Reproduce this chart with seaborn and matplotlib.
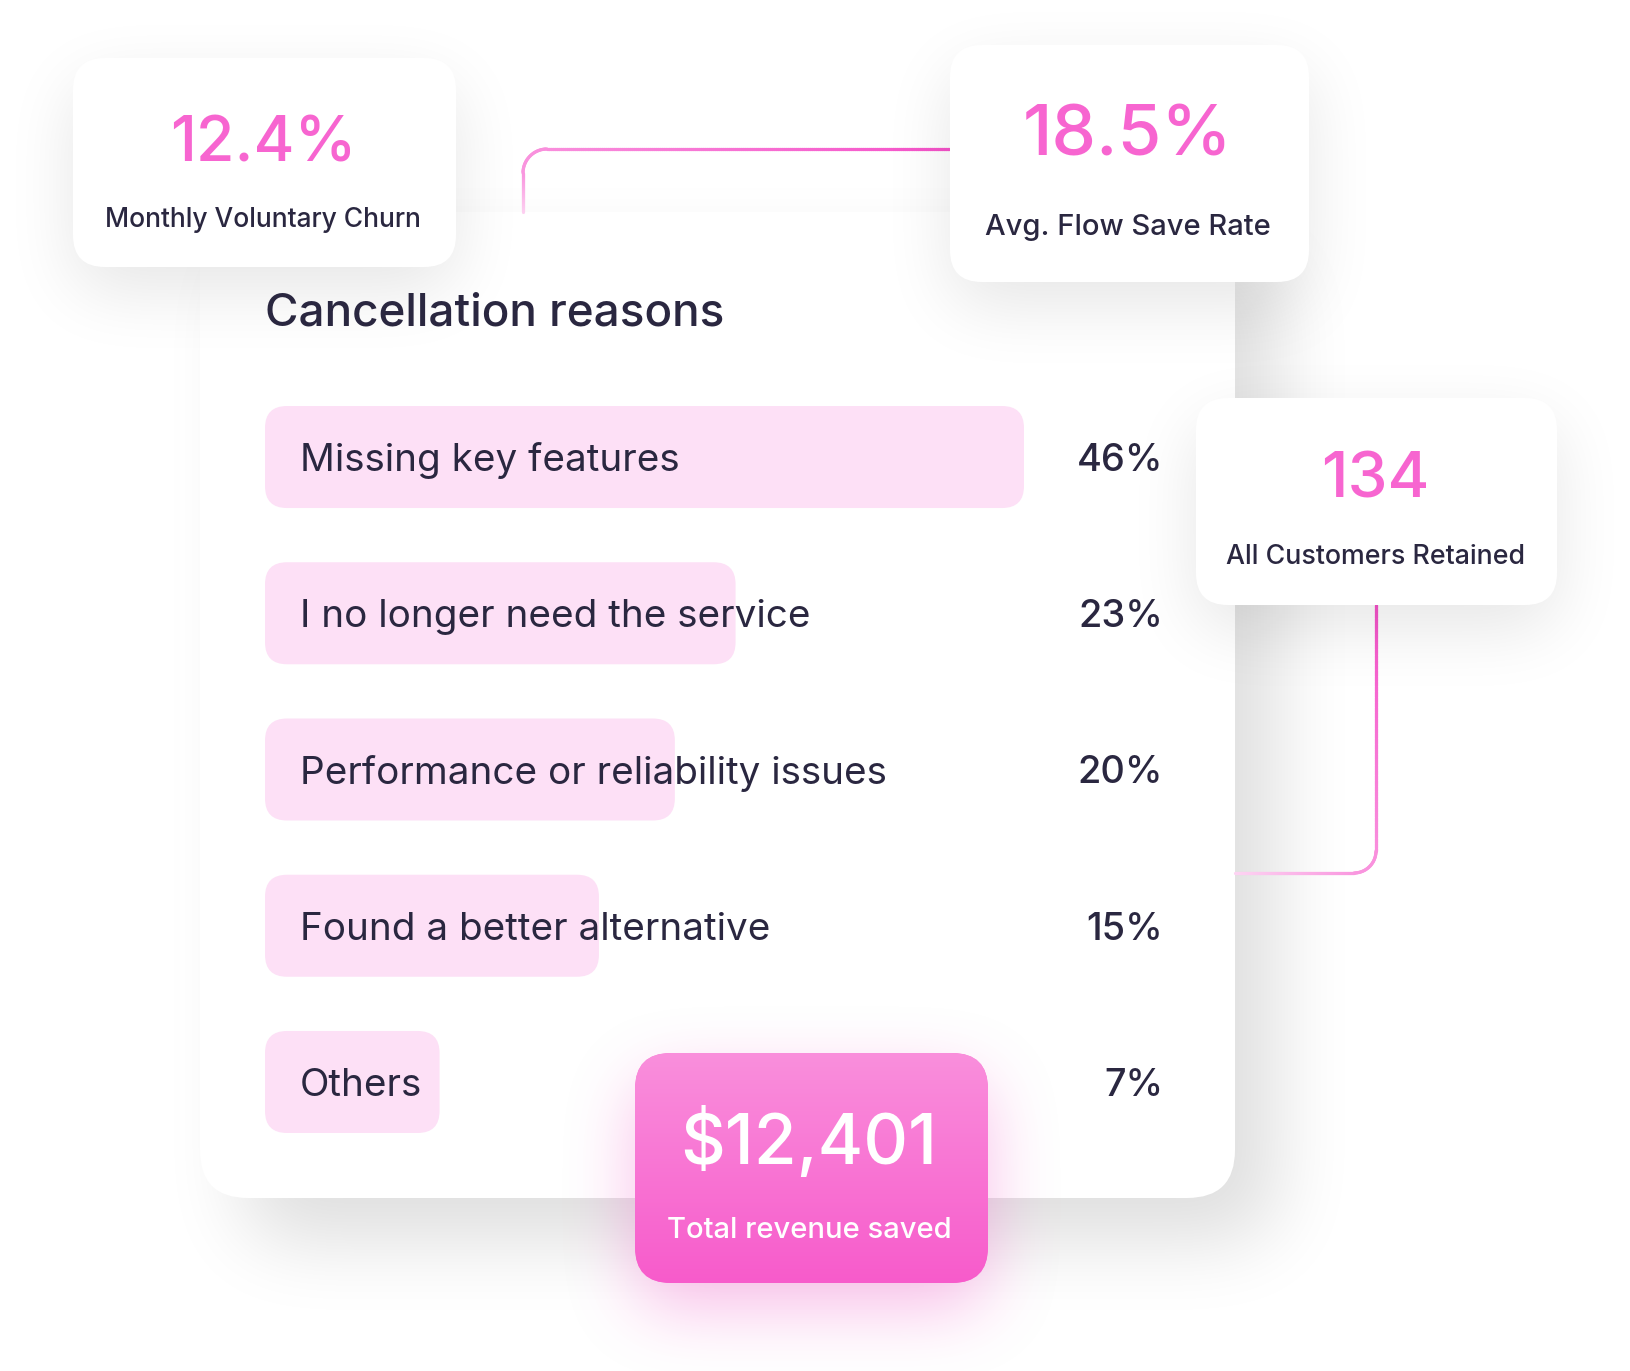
import numpy as np
import pandas as pd
import matplotlib
matplotlib.use("Agg")
import matplotlib.pyplot as plt
import seaborn as sns
from matplotlib.patches import FancyBboxPatch
from matplotlib.collections import LineCollection
from matplotlib import transforms
from matplotlib.colors import to_rgb

# --- data ---
reasons = ["Missing key features", "I no longer need the service",
           "Performance or reliability issues", "Found a better alternative", "Others"]
shares = [46, 23, 20, 15, 7]
bar_fill = [100, 62, 54, 44, 23]   # drawn bar length, % of the track

kpi_values = ["12.4%", "18.5%", "134", "$12,401"]
kpi_labels = ["Monthly Voluntary Churn", "Avg. Flow Save Rate",
              "All Customers Retained", "Total revenue saved"]

TEXT = "#2a2740"
PINK = "#f765d0"
BAR = "#fde0f6"

sns.set_theme(style="white")
plt.rcParams["font.family"] = ["Inter", "DejaVu Sans"]

W, H = 1630, 1371
fig = plt.figure(figsize=(W / 100, H / 100), dpi=100)
ax = fig.add_axes([0, 0, 1, 1])
ax.set_xlim(0, W)
ax.set_ylim(H, 0)
ax.axis("off")

yy, xx = np.mgrid[0:H, 0:W] + 0.5


def rrect_mask(x0, y0, x1, y1, r):
    cx, cy = (x0 + x1) / 2, (y0 + y1) / 2
    hw, hh = (x1 - x0) / 2 - r, (y1 - y0) / 2 - r
    dx = np.maximum(np.abs(xx - cx) - hw, 0)
    dy = np.maximum(np.abs(yy - cy) - hh, 0)
    return (np.hypot(dx, dy) <= r).astype(float)


def box1d(a, w, axis):
    if axis == 1:
        return box1d(a.T, w, 0).T
    r = w // 2
    w = 2 * r + 1
    n = a.shape[0]
    c = np.cumsum(np.pad(a, ((r + 1, r), (0, 0))), axis=0)
    return (c[w:w + n] - c[0:n]) / w


def blur(a, s):
    w = int(round(np.sqrt(4 * s * s + 1)))
    for _ in range(3):
        a = box1d(a, w, 0)
        a = box1d(a, w, 1)
    return a


def shadow(rect, r, dx, dy, s, alpha, color="#000000", z=1):
    x0, y0, x1, y1 = rect
    m = blur(rrect_mask(x0 + dx, y0 + dy, x1 + dx, y1 + dy, r), s)
    img = np.zeros((H, W, 4))
    img[..., :3] = to_rgb(color)
    img[..., 3] = m * alpha
    ax.imshow(img, extent=(0, W, H, 0), zorder=z, interpolation="bilinear")


def card(rect, r, z, fc="white"):
    x0, y0, x1, y1 = rect
    p = FancyBboxPatch((x0, y0), x1 - x0, y1 - y0,
                       boxstyle=f"round,pad=0,rounding_size={r}",
                       fc=fc, ec="none", zorder=z)
    ax.add_patch(p)
    return p


def connector(pts, c0, c1, z):
    pts = np.asarray(pts)
    seg = np.stack([pts[:-1], pts[1:]], axis=1)
    t = np.linspace(0, 1, len(seg))[:, None]
    cols = (1 - t) * np.array(to_rgb(c0)) + t * np.array(to_rgb(c1))
    ax.add_collection(LineCollection(seg, colors=cols, linewidths=2.3,
                                     capstyle="round", zorder=z))


def elbow(p0, corner, p1, r, n=200):
    # straight run, quarter arc, straight run
    p0, corner, p1 = map(np.asarray, (p0, corner, p1))
    d0 = (corner - p0) / np.linalg.norm(corner - p0)
    d1 = (p1 - corner) / np.linalg.norm(p1 - corner)
    a = corner - d0 * r
    b = corner + d1 * r
    ctr = a + d1 * r
    v0, v1 = a - ctr, b - ctr
    th0, th1 = np.arctan2(v0[1], v0[0]), np.arctan2(v1[1], v1[0])
    dth = (th1 - th0 + np.pi) % (2 * np.pi) - np.pi
    th = th0 + dth * np.linspace(0, 1, 30)
    arc = ctr + r * np.stack([np.cos(th), np.sin(th)], axis=1)
    l0 = p0 + (a - p0) * np.linspace(0, 1, n)[:, None]
    l1 = b + (p1 - b) * np.linspace(0, 1, n)[:, None]
    return np.vstack([l0, arc, l1])


# main card
main = (200, 212, 1235, 1198)
shadow(main, 48, 42, 44, 36, 0.13, z=1)
card(main, 48, 2)

# connectors
connector(elbow((523, 212), (523, 149), (950, 149), 24), "#fdd3f2", "#f552c9", 3)
connector(elbow((1376, 605), (1376, 873), (1235, 873), 22), "#f552c9", "#fdd3f2", 3)

# small cards
tl = (73, 58, 456, 267)
tr = (950, 45, 1309, 282)
rc = (1196, 398, 1557, 605)
for i, rect in enumerate([tl, tr, rc]):
    shadow(rect, 32, 0, 24, 32, 0.10, z=4 + 2 * i)
    card(rect, 32, 5 + 2 * i)

# revenue card with gradient fill
pk = (635, 1053, 988, 1283)
shadow(pk, 36, 0, 26, 32, 0.42, color="#f26acd", z=10)
clip = card(pk, 36, 11, fc="#f97ad5")
grad = np.linspace(0, 1, 256)[:, None, None]
top, bot = np.array(to_rgb("#fa8fdc")), np.array(to_rgb("#f75bcb"))
gimg = (1 - grad) * top + grad * bot
gimg = np.repeat(gimg, 2, axis=1)
im = ax.imshow(gimg, extent=(pk[0], pk[2], pk[3], pk[1]), zorder=12,
               interpolation="bilinear")
im.set_clip_path(clip)
ax.set_aspect("auto")
ax.set_xlim(0, W)
ax.set_ylim(H, 0)

# KPI texts
kpi_pos = [(263, 161, 227), (1128, 155, 235), (1375, 498, 564), (809, 1164, 1238)]
kpi_big = [45, 51, 46, 50]
kpi_small = [19, 21, 19.3, 21]
for i, (v, lab) in enumerate(zip(kpi_values, kpi_labels)):
    cx, yb1, yb2 = kpi_pos[i]
    col_big = "white" if i == 3 else PINK
    col_small = "white" if i == 3 else TEXT
    ax.text(cx, yb1, v, ha="center", va="baseline", fontsize=kpi_big[i],
            color=col_big, fontweight="medium", zorder=20)
    ax.text(cx, yb2, lab, ha="center", va="baseline", fontsize=kpi_small[i],
            color=col_small, fontweight="medium", zorder=20)

ax.text(265, 325, "Cancellation reasons", ha="left", va="baseline",
        fontsize=33, color=TEXT, fontweight="medium", zorder=20)

# --- bars ---
df = pd.DataFrame({"reason": reasons, "fill": bar_fill, "share": shares})
bax = fig.add_axes([265 / W, 1 - 1133 / H, 759 / W, 727 / H])
sns.barplot(data=df, x="fill", y="reason", orient="h", width=0.653,
            color=BAR, errorbar=None, ax=bax)
bax.set_xlim(0, 100)
bax.set_ylim(4.3265, -0.3265)
bax.axis("off")

inv = ax.transData.inverted()
for p in list(bax.patches):
    corners = np.array([[p.get_x(), p.get_y()],
                        [p.get_x() + p.get_width(), p.get_y() + p.get_height()]])
    (x0, y0), (x1, y1) = inv.transform(bax.transData.transform(corners))
    p.set_visible(False)
    ax.add_patch(FancyBboxPatch((min(x0, x1), min(y0, y1)), abs(x1 - x0), abs(y1 - y0),
                                boxstyle="round,pad=0,rounding_size=22",
                                fc=BAR, ec="none", zorder=15))

blend = transforms.blended_transform_factory(ax.transData, bax.transData)
lab_fs = 27.8
pct_fs = 27.3
lab_tr = transforms.offset_copy(blend, fig=fig, y=-0.3635 * lab_fs, units="points")
pct_tr = transforms.offset_copy(blend, fig=fig, y=-0.3635 * pct_fs, units="points")
for i, (r, s) in enumerate(zip(reasons, shares)):
    bax.text(300, i, r, ha="left", va="baseline", fontsize=lab_fs, color=TEXT,
             transform=lab_tr, clip_on=False)
    bax.text(1163, i, f"{s}%", ha="right", va="baseline", fontsize=pct_fs,
             color=TEXT, fontweight="medium", transform=pct_tr, clip_on=False)

fig.savefig("out.png", dpi=100)
